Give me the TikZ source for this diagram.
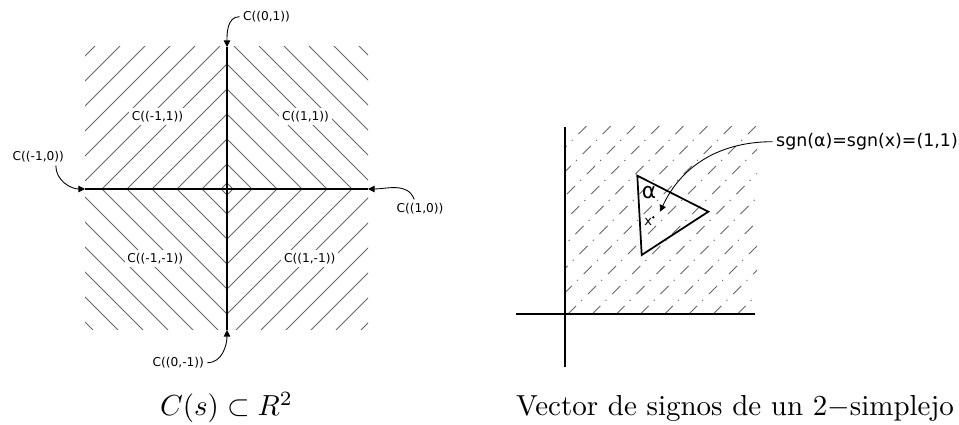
\documentclass[tikz,border=0pt]{standalone}
\usepackage{fontspec}
\usetikzlibrary{arrows.meta}
\newfontfamily\lblfont{DejaVu Sans}
\definecolor{hatchGrey}{gray}{0.4}
\tikzset{
  axisline/.style={line width=0.38pt, draw=black},
  hatch/.style={line width=0.28pt, draw=hatchGrey},
  dashhatch/.style={line width=0.3pt, draw=hatchGrey,
    dash pattern=on 4pt off 2.5pt on 0.4pt off 2.85pt},
  conelbl/.style={font=\fontsize{4.2}{5}\lblfont, fill=white, inner sep=1pt},
  sgnlbl/.style={font=\fontsize{6}{7}\lblfont, inner sep=1pt},
  pointer/.style={-{Triangle[length=2.3pt,width=2.3pt]}, line width=0.3pt},
  simplex/.style={line width=0.6pt, draw=black},
  figcaption/.style={font=\normalsize, anchor=base, inner sep=0pt},
}

\begin{document}
\begin{tikzpicture}[x=0.3448pt, y=-0.3448pt]
  \useasboundingbox (0,0) rectangle (959,425);

  % cones of R^2
  \begin{scope}
    \clip (85,47) rectangle (368,330);
    \foreach \c in {6,25,50,...,275}
      \draw[hatch] ({227-\c},189) -- (227,{189-\c}) -- ({227+\c},189) -- (227,{189+\c}) -- cycle;
  \end{scope}
  \coordinate (top) at (227,47);
  \coordinate (bot) at (227,330);
  \coordinate (lft) at (85,189);
  \coordinate (rgt) at (368,189);
  \draw[axisline] (top) -- (bot);
  \draw[axisline] (lft) -- (rgt);

  \node[conelbl] (cmp) at (157.5,116.7) {C((-1,1))};
  \node[conelbl] (cpp) at (305.5,116.7) {C((1,1))};
  \node[conelbl] (cmm) at (155.3,258.3) {C((-1,-1))};
  \node[conelbl] (cpm) at (309.7,258.3) {C((1,-1))};
  \node[conelbl] (c0p) at (266.5,16.7) {C((0,1))};
  \node[conelbl] (c0m) at (178.3,362.7) {C((0,-1))};
  \node[conelbl] (cm0) at (38.3,156.7) {C((-1,0))};
  \node[conelbl] (cp0) at (420,208.3) {C((1,0))};

  \draw[pointer] (c0p.west) to[out=180, in=90] (top);
  \draw[pointer] ([xshift=-4pt]cm0.south east) to[out=-90, in=180] (lft);
  \draw[pointer] ([xshift=-2pt]cp0.north) to[out=110, in=0] (rgt);
  \draw[pointer] (c0m.east) to[out=0, in=-90] (bot);

  % sign vector of a 2-simplex
  \begin{scope}
    \clip (565,127) rectangle (757,314);
    \foreach \d in {-8,...,7}
      \draw[dashhatch] ({568+24.2*\d-220},534) -- ({568+24.2*\d+220},94);
  \end{scope}
  \draw[axisline] (565,127) -- (565,367);
  \draw[axisline] (516,314) -- (755,314);

  \draw[simplex] (637.3,175.7) -- (708.3,211.7) -- (641.7,255) -- cycle;
  \node[font=\fontsize{7.5}{8}\lblfont, inner sep=0pt] (alpha) at (649,192.7) {α};
  \node[font=\fontsize{4.5}{5}\lblfont, inner sep=0pt] (xlbl) at (648.3,221.7) {x};
  \coordinate (xpt) at (653.3,217.3);
  \coordinate (xtip) at (660,211.7);
  \fill (xpt) circle (0.45pt);

  \node[sgnlbl] (sgn) at (867,141.7) {sgn(α)=sgn(x)=(1,1)};
  \draw[pointer] (sgn.west) to[out=180, in=65] (xtip);

  \node[figcaption] (capl) at (226.5,416) {$C(s)\subset R^2$};
  \node[figcaption] (capr) at (735,416) {Vector de signos de un 2$-$simplejo};
\end{tikzpicture}
\end{document}
